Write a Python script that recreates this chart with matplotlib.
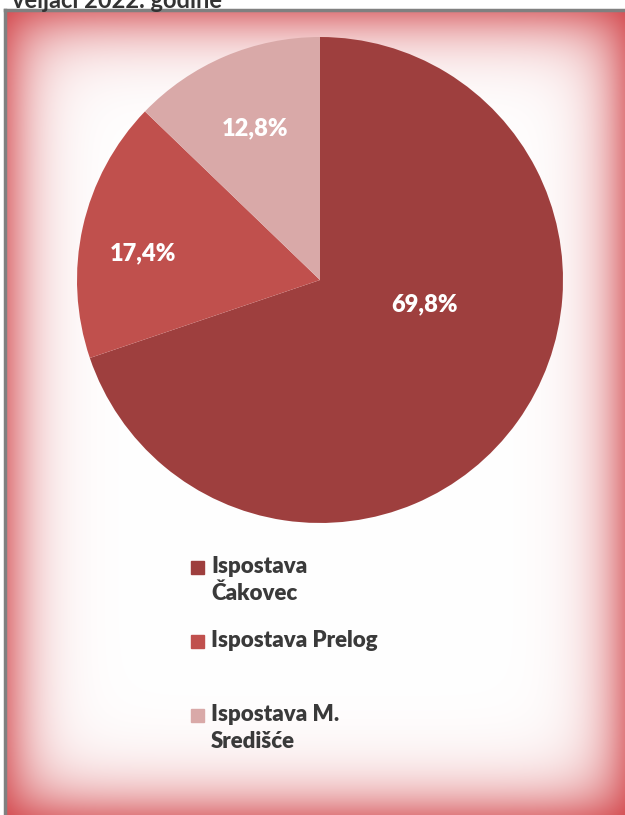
import numpy as np
import matplotlib.pyplot as plt
from matplotlib.patches import Rectangle

plt.rcParams['font.family'] = ['Lato', 'DejaVu Sans']

# data
labels = ['Ispostava\nČakovec', 'Ispostava Prelog', 'Ispostava M.\nSredišće']
shares = [69.8, 17.4, 12.8]
pct_text = ['69,8%', '17,4%', '12,8%']
colors = ['#9E3F3E', '#C0504D', '#D9A9A8']
title = 'veljači 2022. godine'

W, H = 625, 815
fig = plt.figure(figsize=(W / 100, H / 100), dpi=100)

# glowing frame background
bg = fig.add_axes([0, 0, 1, 1])
bg.set_xlim(0, W)
bg.set_ylim(H, 0)
bg.axis('off')
x0, x1, y0, y1 = 6, 625, 11, 815
xx, yy = np.meshgrid(np.arange(x0, x1), np.arange(y0, y1))
dx = np.minimum(xx - x0, x1 - xx)
dy = np.minimum(yy - y0, y1 - yy)
ax_ = 0.68 * np.exp(-(dx / 30.0) ** 1.2)
ay_ = 0.68 * np.exp(-(dy / 32.0) ** 1.2)
a = 1 - (1 - ax_) * (1 - ay_)
edge = np.array([0.82, 0.25, 0.27])
img = np.ones(xx.shape + (3,)) * (1 - a[..., None]) + edge * a[..., None]
bg.imshow(img, extent=(x0, x1, y1, y0), interpolation='bilinear', zorder=0)
bg.plot([x0 - 1, x0 - 1], [y0 - 1, y1], color='#808080', lw=2.5, zorder=1)
bg.plot([x0 - 1, x1], [y0 - 1, y0 - 1], color='#808080', lw=2.5, zorder=1)
bg.text(12, -11, title, fontsize=17, fontweight='bold', color='#333333',
        va='top', ha='left')

# pie
ax = fig.add_axes([0.1232, 0.3583, 0.7776, 0.5963])
wedges, texts, autotexts = ax.pie(shares, colors=colors, startangle=90,
                                  counterclock=False, autopct='%1.1f%%',
                                  pctdistance=0.68,
                                  wedgeprops=dict(linewidth=0))
for t, s in zip(autotexts, pct_text):
    t.set_text(s)
    t.set_color('white')
    t.set_fontsize(17)
    t.set_fontweight('heavy')
autotexts[0].set_position((0.43, -0.10))
autotexts[1].set_position((-0.73, 0.11))
ax.set_xlim(-1, 1)
ax.set_ylim(-1, 1)
ax.set_aspect('auto')

# legend
for i, (lab, c) in enumerate(zip(labels, colors)):
    y = 568 + i * 74
    bg.add_patch(Rectangle((191, y - 7), 13, 13, color=c, zorder=2))
    bg.text(211, y - 12, lab, fontsize=16, fontweight='heavy',
            color='#3a3a3a', va='top', ha='left', linespacing=1.35)

fig.savefig('out.png', dpi=100)
